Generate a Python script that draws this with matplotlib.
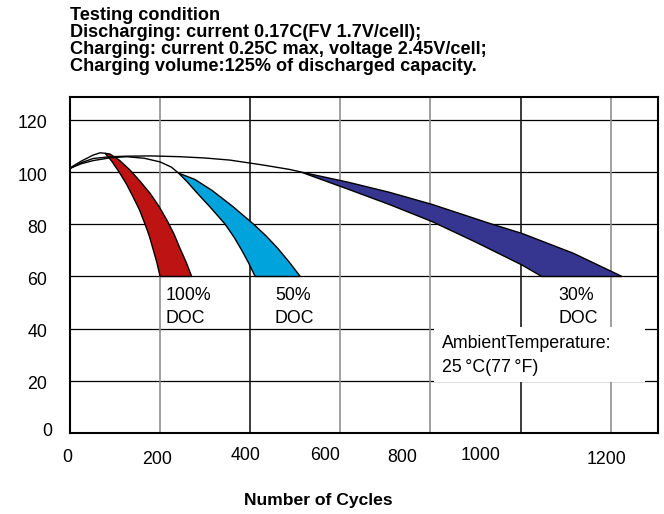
import numpy as np
import matplotlib
matplotlib.use("Agg")
import matplotlib.pyplot as plt
from matplotlib.patches import Rectangle

# ---------------- data ----------------
title_lines = ["Testing condition",
               "Discharging: current 0.17C(FV 1.7V/cell);",
               "Charging: current 0.25C max, voltage 2.45V/cell;",
               "Charging volume:125% of discharged capacity."]
x_label = "Number of Cycles"
xtick_labels = ["0", "200", "400", "600", "800", "1000", "1200"]
ytick_values = [0, 20, 40, 60, 80, 100, 120]
xgrid_values = [200, 400, 600, 800, 1000, 1200]

# lead-in capacity curves (capacity % vs cycles)
curve100_x = [0, 25, 51, 67, 78]
curve100_y = [101.6, 104.2, 106.5, 107.4, 107.2]
curve50_x = [0, 25, 51, 90, 126, 165, 200, 225, 241]
curve50_y = [101.5, 103.2, 104.4, 105.5, 105.9, 105.3, 103.9, 101.9, 99.6]
curve30_x = [0, 25, 51, 90, 126, 180, 244, 300, 355, 429, 488, 511]
curve30_y = [101.3, 103.6, 105.2, 105.9, 106.1, 106.2, 105.9, 105.4, 104.6, 102.7, 101.0, 100.1]

# bands: (fast edge, slow edge)
red_left_x = [78, 93, 111, 126, 140, 154, 166, 176, 185, 193, 200]
red_left_y = [107.2, 104.1, 99.5, 95.2, 90.5, 85.6, 80.3, 75.5, 70.1, 65.2, 60.0]
red_right_x = [78, 89, 110, 133, 155, 178, 197, 215, 231, 244, 258, 270]
red_right_y = [107.2, 106.9, 104.5, 100.8, 96.6, 91.8, 87.0, 81.6, 76.2, 70.8, 65.4, 60.0]

cyan_left_x = [241, 260, 281, 312, 344, 365, 381, 396, 411]
cyan_left_y = [99.6, 96.3, 92.2, 86.4, 80.1, 74.8, 70.1, 65.3, 60.0]
cyan_right_x = [241, 277, 315, 360, 407, 436, 462, 487, 511]
cyan_right_y = [99.6, 97.2, 93.0, 87.0, 80.1, 75.4, 70.6, 65.4, 60.0]

blue_upper_x = [511, 618, 710, 804, 932, 1003, 1117, 1225]
blue_upper_y = [100.1, 96.1, 92.2, 87.6, 80.3, 76.5, 68.9, 60.0]
blue_lower_x = [511, 618, 710, 804, 900, 1003, 1047]
blue_lower_y = [100.1, 93.4, 87.5, 81.0, 73.2, 64.4, 60.0]

band_labels = [("100%", "DOC"), ("50%", "DOC"), ("30%", "DOC")]
ambient_lines = ["AmbientTemperature:", "25\u2009°C(77\u2009°F)"]

# ---------------- style ----------------
plt.rcParams['font.family'] = ['Liberation Sans', 'DejaVu Sans']
FS = 12.8
RED, CYAN, NAVY = "#BE1313", "#00A3DC", "#363690"

W, H = 664, 514
fig = plt.figure(figsize=(W / 100, H / 100), dpi=100)
L, R, T, B = 70, 658, 96.7, 433
ax = fig.add_axes([L / W, 1 - B / H, (R - L) / W, (B - T) / H])
XMAX, YMAX = 1305, 128.9
ax.set_xlim(0, XMAX)
ax.set_ylim(0, YMAX)
ax.set_xticks([])
ax.set_yticks([])
for s in ax.spines.values():
    s.set_linewidth(1.5)
    s.set_color("black")

# grid
ax.hlines(ytick_values[1:], 0, XMAX, colors="black", lw=0.9, zorder=1)
vcolors = ["#8f8f8f", "#1a1a1a", "#8f8f8f", "#8f8f8f", "#1a1a1a", "#8f8f8f"]
ax.vlines(xgrid_values, 0, YMAX, colors=vcolors, lw=1.2, zorder=1)

# white box behind ambient text
ax.add_patch(Rectangle((807, 19.6), 1276 - 807, 40.5 - 19.6,
                       facecolor="white", edgecolor="none", zorder=2))

# curves
for cx, cy in [(curve100_x, curve100_y), (curve50_x, curve50_y), (curve30_x, curve30_y)]:
    ax.plot(cx, cy, color="black", lw=1.0, zorder=4)

def band(x1, y1, x2, y2, color):
    xs = list(x1) + list(x2)[::-1]
    ys = list(y1) + list(y2)[::-1]
    ax.fill(xs, ys, facecolor=color, edgecolor="black", lw=1.0, zorder=3)

band(red_left_x, red_left_y, red_right_x, red_right_y, RED)
band(cyan_left_x, cyan_left_y, cyan_right_x, cyan_right_y, CYAN)
band(blue_lower_x, blue_lower_y, blue_upper_x, blue_upper_y, NAVY)

# helpers px->data
def px_x(px):
    return (px - L) / (R - L) * XMAX

def px_y(py):
    return (B - py) / (B - T) * YMAX

# band labels
for (l1, l2), xl in zip(band_labels, [165.5, 275, 558.5]):
    ax.text(px_x(xl), px_y(296), l1, fontsize=FS, ha="left", va="center", zorder=5)
    ax.text(px_x(xl), px_y(318.5), l2, fontsize=FS, ha="left", va="center", zorder=5)

ax.text(px_x(441.5), px_y(344), ambient_lines[0], fontsize=FS, ha="left", va="center", zorder=5)
ax.text(px_x(441.5), px_y(367), ambient_lines[1], fontsize=FS, ha="left", va="center", zorder=5)

# x tick labels (irregular placement as in original)
xlab_px = [67, 157, 246, 325, 402, 481, 607]
xlab_py = [457, 460, 456, 456, 457, 456, 460]
for lab, xp, yp in zip(xtick_labels, xlab_px, xlab_py):
    fig.text(xp / W, 1 - yp / H, lab, fontsize=FS, ha="center", va="center")

# y tick labels
for v in ytick_values:
    ypx = B - v / YMAX * (B - T)
    if v == 0:
        fig.text(52.5 / W, 1 - (ypx - 1) / H, str(v), fontsize=FS, ha="right", va="center")
    else:
        fig.text(47.5 / W, 1 - (ypx + 4) / H, str(v), fontsize=FS, ha="right", va="center")

# title block
for line, bl in zip(title_lines, [20.5, 37.3, 54.0, 70.7]):
    fig.text(70 / W, 1 - bl / H, line, fontsize=13.1, fontweight="bold",
             ha="left", va="baseline")

fig.text(318 / W, 1 - 500 / H, x_label, fontsize=12.6, fontweight="bold",
         ha="center", va="center")

fig.savefig("out.png", dpi=100)
